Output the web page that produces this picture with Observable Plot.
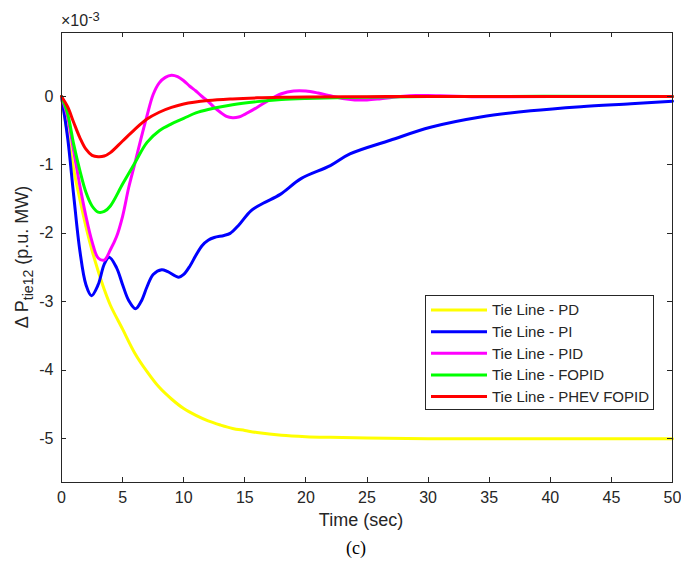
<!DOCTYPE html>
<html><head><meta charset="utf-8">
<script src="https://cdn.jsdelivr.net/npm/d3@7"></script>
<script src="https://cdn.jsdelivr.net/npm/@observablehq/plot@0.6"></script>
<style>body{margin:0;background:#fff}</style>
</head><body><div id="chart"></div>
<script>
// ---- data (values in units of 1e-3 p.u. MW) ----
const seriesNames = ["Tie Line - PD", "Tie Line - PI", "Tie Line - PID", "Tie Line - FOPID", "Tie Line - PHEV FOPID"];
const seriesColors = ["#ffff00", "#0000ff", "#ff00ff", "#00ff00", "#ff0000"];
const xTicks = [0, 5, 10, 15, 20, 25, 30, 35, 40, 45, 50];
const yTicks = [-5, -4, -3, -2, -1, 0];

const tPD = [0, 0.5, 1, 1.5, 2, 2.5, 3, 3.5, 4, 5, 6, 7, 8, 9, 10, 11, 12, 13, 14, 15, 16, 18, 20, 22, 25, 30, 35, 40, 45, 50];
const vPD = [0, -0.55, -1.07, -1.5, -1.9, -2.25, -2.55, -2.82, -3.05, -3.4, -3.75, -4.02, -4.25, -4.42, -4.56, -4.66, -4.74, -4.8, -4.85, -4.88, -4.91, -4.95, -4.97, -4.98, -4.99, -5.0, -5.0, -5.0, -5.0, -5.0];

const tPI = [0, 0.5, 1, 1.5, 2, 2.45, 3, 3.5, 3.9, 4.5, 5, 5.5, 6.05, 6.5, 7, 7.5, 8.2, 8.7, 9.6, 10, 10.5, 11, 11.5, 12, 12.5, 13.3, 13.8, 14.5, 15.5, 16.5, 17.9, 19.6, 22, 23.6, 26.9, 30.2, 34.3, 38.4, 42.5, 46.6, 50];
const vPI = [0, -0.6, -1.45, -2.25, -2.75, -2.91, -2.75, -2.45, -2.35, -2.5, -2.75, -2.98, -3.1, -3.0, -2.78, -2.6, -2.53, -2.56, -2.64, -2.6, -2.48, -2.32, -2.18, -2.1, -2.06, -2.03, -2.0, -1.88, -1.67, -1.56, -1.43, -1.2, -1.01, -0.84, -0.64, -0.45, -0.3, -0.21, -0.15, -0.107, -0.07];

const tPID = [0, 0.5, 1, 1.5, 2, 2.5, 3, 3.5, 4, 4.5, 5, 5.5, 6, 6.5, 7, 7.5, 8, 8.5, 9, 9.5, 10, 10.5, 11, 11.5, 12, 12.5, 13, 13.5, 14, 14.5, 15, 16, 17, 18, 19, 20, 21, 22, 23, 24, 25, 26, 27, 28, 29, 30, 31, 33, 35, 40, 50];
const vPID = [0, -0.3, -0.8, -1.3, -1.75, -2.12, -2.36, -2.39, -2.24, -2.05, -1.75, -1.33, -0.98, -0.62, -0.28, 0.03, 0.2, 0.28, 0.31, 0.29, 0.23, 0.15, 0.08, 0.0, -0.07, -0.16, -0.23, -0.29, -0.31, -0.3, -0.26, -0.16, -0.05, 0.04, 0.08, 0.08, 0.05, 0.01, -0.03, -0.05, -0.05, -0.035, -0.015, 0.005, 0.015, 0.015, 0.01, 0, -0.005, 0, 0];

const tFOPID = [0, 0.5, 1, 1.5, 2, 2.5, 3, 3.5, 4, 5, 6, 7, 8, 9, 10, 11, 12, 14, 16, 18, 20, 25, 30, 50];
const vFOPID = [0, -0.25, -0.7, -1.08, -1.4, -1.6, -1.69, -1.68, -1.6, -1.28, -0.97, -0.67, -0.5, -0.4, -0.32, -0.24, -0.19, -0.12, -0.075, -0.045, -0.03, -0.01, 0, 0];

const tPHEV = [0, 0.5, 1, 1.5, 2, 2.5, 3, 3.5, 4, 5, 6, 7, 8, 9, 10, 12, 14, 16, 18, 20, 25, 30, 40, 50];
const vPHEV = [0, -0.15, -0.38, -0.6, -0.77, -0.86, -0.88, -0.87, -0.82, -0.65, -0.48, -0.33, -0.23, -0.16, -0.11, -0.06, -0.035, -0.02, -0.012, -0.008, -0.003, 0, 0, 0];

const tAll = [tPD, tPI, tPID, tFOPID, tPHEV];
const vAll = [vPD, vPI, vPID, vFOPID, vPHEV];

const series = tAll.map((ts, i) => ts.map((t, j) => ({t, v: vAll[i][j]})));

const lineMarks = series.map((d, i) => Plot.line(d, {
  x: "t", y: "v", stroke: seriesColors[i], strokeWidth: 3, curve: "catmull-rom",
  strokeLinejoin: "round", strokeLinecap: "round"
}));

const font = "'Liberation Sans', Arial, Helvetica, sans-serif";
const ink = "#262626";

const chart = Plot.plot({
  width: 681, height: 565,
  marginLeft: 61, marginRight: 9, marginTop: 32, marginBottom: 83,
  x: {domain: [0, 50]},
  y: {domain: [-5.64, 0.935]},
  style: {fontFamily: font, fontSize: "16px", color: ink, background: "white", overflow: "visible"},
  marks: [
    ...lineMarks,
    Plot.frame({stroke: ink, strokeWidth: 1}),
    Plot.axisX(xTicks, {anchor: "bottom", tickSize: 0, tickPadding: 9, tickFormat: d => String(d), label: null}),
    Plot.axisY(yTicks, {anchor: "left", tickSize: 0, tickPadding: 8, tickFormat: d => String(d), label: null})
  ]
});
document.getElementById("chart").appendChild(chart);

const svg = d3.select(chart);
const sx = chart.scale("x"), sy = chart.scale("y");
const [x0, x1] = sx.range, [y0, y1] = sy.range; // y0 bottom, y1 top

// inward tick marks on all four sides
const tk = svg.append("g").attr("stroke", ink).attr("stroke-width", 1);
xTicks.forEach(t => {
  const px = Math.round(sx.apply(t)) + 0.5;
  tk.append("line").attr("x1", px).attr("x2", px).attr("y1", y0).attr("y2", y0 - 5);
  tk.append("line").attr("x1", px).attr("x2", px).attr("y1", y1).attr("y2", y1 + 5);
});
yTicks.forEach(v => {
  const py = Math.round(sy.apply(v)) + 0.5;
  tk.append("line").attr("x1", x0).attr("x2", x0 + 5).attr("y1", py).attr("y2", py);
  tk.append("line").attr("x1", x1).attr("x2", x1 - 5).attr("y1", py).attr("y2", py);
});

// x-axis label and caption
svg.append("text").attr("x", 361).attr("y", 520).attr("dy", "0.35em")
  .attr("text-anchor", "middle").attr("font-family", font).attr("font-size", 18).attr("fill", ink)
  .text("Time (sec)");
svg.append("text").attr("x", 356).attr("y", 548).attr("dy", "0.35em")
  .attr("text-anchor", "middle").attr("font-family", "'Liberation Serif', 'Times New Roman', serif")
  .attr("font-size", 18).attr("fill", "#000").text("(c)");

// y-axis label with subscript
const yl = svg.append("text").attr("transform", "translate(22,257) rotate(-90)")
  .attr("text-anchor", "middle").attr("font-family", font).attr("font-size", 18).attr("fill", ink).attr("dy", "0.35em");
yl.append("tspan").text("\u0394 P");
yl.append("tspan").attr("font-size", 14).attr("dy", 5).text("tie12");
yl.append("tspan").attr("dy", -5).text(" (p.u. MW)");

// exponent label
const ex = svg.append("text").attr("x", 61).attr("y", 26).attr("text-anchor", "start")
  .attr("font-family", font).attr("font-size", 16).attr("fill", ink);
ex.append("tspan").text("\u00d710");
ex.append("tspan").attr("font-size", 13).attr("dy", -5).text("-3");

// legend
const lg = svg.append("g").attr("text-anchor", "start");
lg.append("rect").attr("x", 425.5).attr("y", 295.5).attr("width", 228).attr("height", 114)
  .attr("fill", "white").attr("stroke", ink).attr("stroke-width", 1);
seriesNames.forEach((name, i) => {
  const y = 310 + i * 21.65;
  lg.append("line").attr("x1", 431).attr("x2", 487).attr("y1", y).attr("y2", y)
    .attr("stroke", seriesColors[i]).attr("stroke-width", 3);
  lg.append("text").attr("x", 492).attr("y", y).attr("dy", "0.35em").attr("text-anchor", "start")
    .attr("font-family", font).attr("font-size", 15).attr("fill", ink).text(name);
});
</script>
</body></html>
